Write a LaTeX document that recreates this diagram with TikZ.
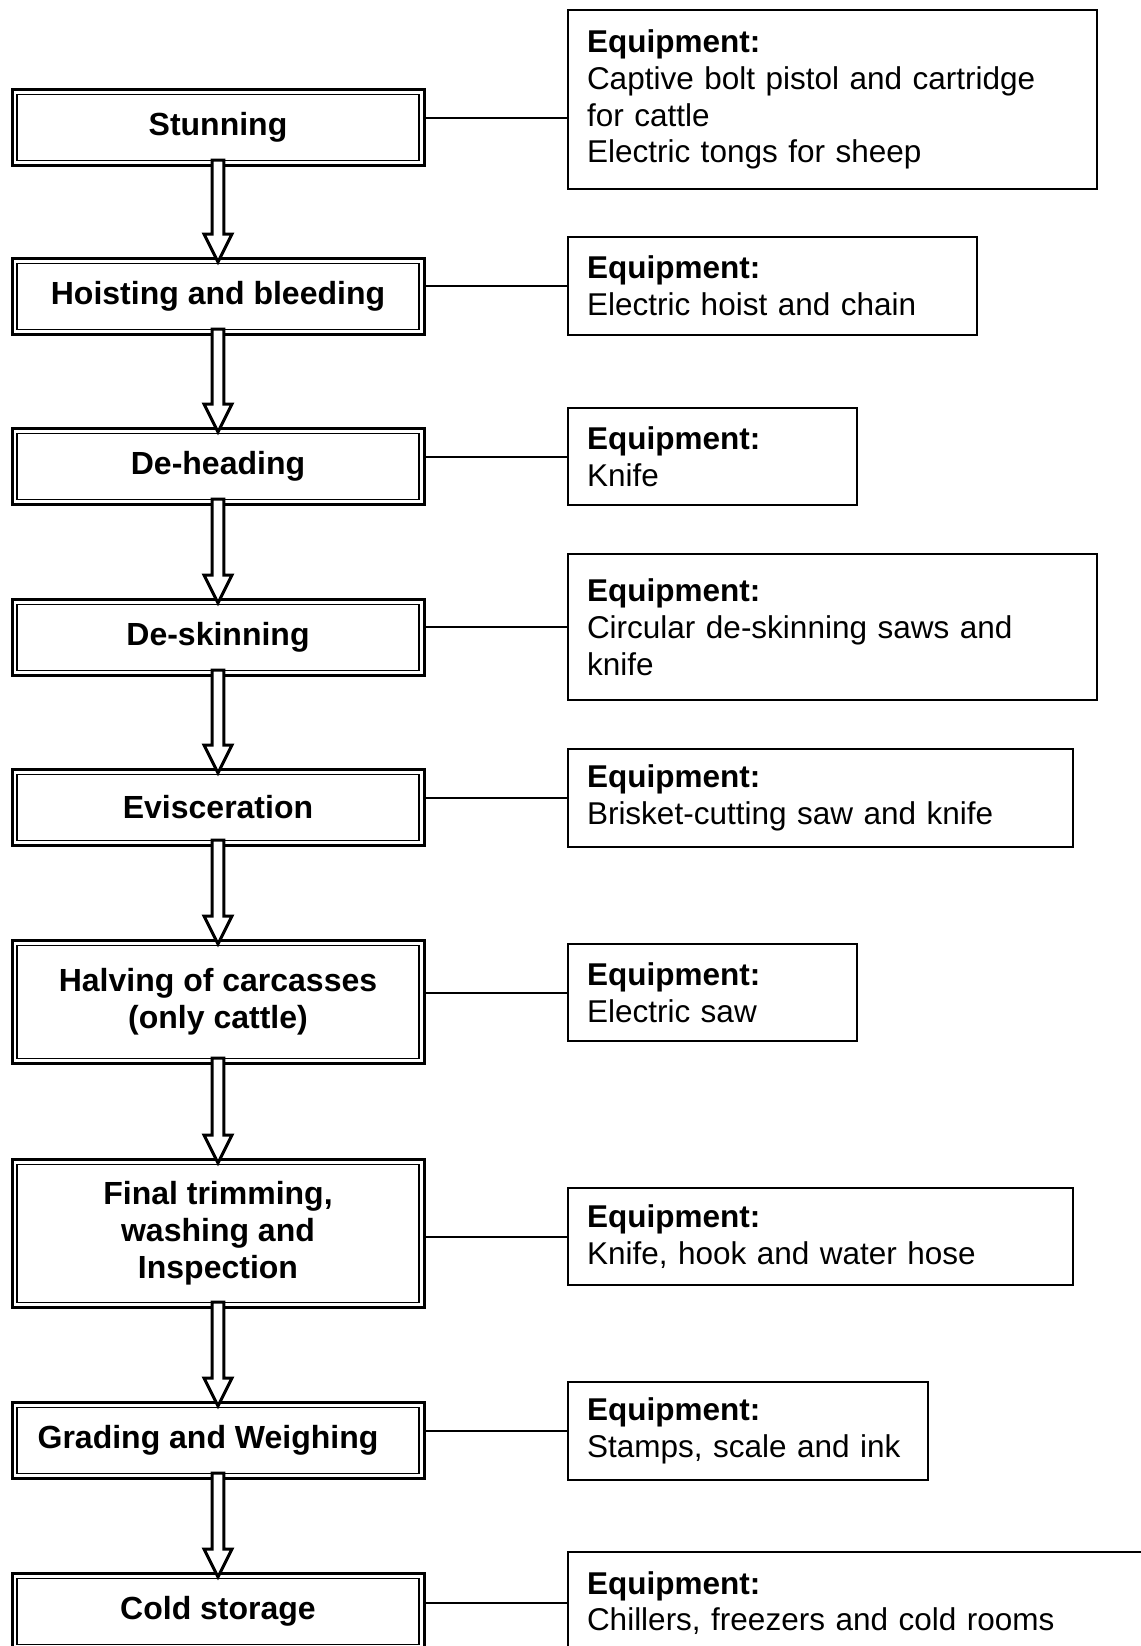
\documentclass[tikz,border=0pt]{standalone}
\usepackage{fontspec}
\setmainfont{Liberation Sans}
\usepackage{tikz}
\usetikzlibrary{calc}

\begin{document}
\begin{tikzpicture}[
    x=0.5pt, y=-0.5pt,
    font=\fontsize{16}{18.5}\selectfont,
    stepnode/.style={draw, rectangle, line width=1.5pt, minimum width=206pt, minimum height=38pt, inner sep=0pt, align=center, font=\fontsize{16}{18.5}\selectfont\bfseries,
      path picture={\draw[line width=0.75pt] ([shift={(2.4pt,-2.4pt)}]path picture bounding box.north west) rectangle ([shift={(-2.4pt,2.4pt)}]path picture bounding box.south east);}},
    eqnode/.style={draw, rectangle, line width=1pt, anchor=north west, align=left, inner xsep=9.5pt, inner ysep=0pt, font=\fontsize{15.75}{18.4}\selectfont},
    link/.style={line width=1pt},
    blockarrow/.style={draw, fill=white, line width=1.5pt, miter limit=10}
  ]
  \path[use as bounding box, clip] (0,0) rectangle (1141,1646);

  \node (s1) [stepnode] at (218,127.5) {Stunning};
  \node (s2) [stepnode] at (218,296.5) {Hoisting and bleeding};
  \node (s3) [stepnode] at (218,466.5) {De-heading};
  \node (s4) [stepnode] at (218,637.5) {De-skinning};
  \node (s5) [stepnode] at (218,807.5) {Evisceration};
  \node (s6) [stepnode, minimum height=61.5pt] at (218,1002) {Halving of carcasses\\(only cattle)};
  \node (s7) [stepnode, minimum height=74pt] at (218,1233.5) {Final trimming,\\washing and\\Inspection};
  \node (s8) [stepnode] at (218,1440.5) {Grading and Weighing\hspace*{10pt}};
  \node (s9) [stepnode] at (218,1611.5) {Cold storage};

  \node (e1) [eqnode, text width=245.5pt, minimum height=89.5pt] at (567,9) {\textbf{Equipment:}\\Captive bolt pistol and cartridge\\for cattle\\Electric tongs for sheep};
  \node (e2) [eqnode, text width=185.5pt, minimum height=49pt] at (567,236) {\textbf{Equipment:}\\Electric hoist and chain};
  \node (e3) [eqnode, text width=125.5pt, minimum height=48.5pt] at (567,407) {\textbf{Equipment:}\\Knife};
  \node (e4) [eqnode, text width=245.5pt, minimum height=73pt] at (567,553) {\textbf{Equipment:}\\Circular de-skinning saws and\\knife};
  \node (e5) [eqnode, text width=233.5pt, minimum height=49pt] at (567,748) {\textbf{Equipment:}\\Brisket-cutting saw and knife};
  \node (e6) [eqnode, text width=125.5pt, minimum height=48.5pt] at (567,943) {\textbf{Equipment:}\\Electric saw};
  \node (e7) [eqnode, text width=233.5pt, minimum height=48.5pt] at (567,1187) {\textbf{Equipment:}\\Knife, hook and water hose};
  \node (e8) [eqnode, text width=161pt, minimum height=49pt] at (567,1381) {\textbf{Equipment:}\\\mbox{Stamps, scale and ink}};
  \node (e9) [eqnode, text width=281pt, minimum height=51pt] at (567,1551) {\textbf{Equipment:}\\Chillers, freezers and cold rooms};

  \coordinate (c1) at ([yshift=-9pt]e1.west);
  \draw[link] (c1) -- (c1 -| s1.east);
  \foreach \i in {2,...,9}
    \draw[link] (e\i.west) -- (e\i.west -| s\i.east);

  \foreach \a/\b in {s1/s2, s2/s3, s3/s4, s4/s5, s5/s6, s6/s7, s7/s8, s8/s9}
    \draw[blockarrow] ($(\a.south)+(-2.9pt,3.5pt)$) -- ($(\b.north)+(-2.9pt,11.5pt)$) -- ($(\b.north)+(-7pt,11.5pt)$) -- ($(\b.north)+(0,-2.5pt)$) -- ($(\b.north)+(7pt,11.5pt)$) -- ($(\b.north)+(2.9pt,11.5pt)$) -- ($(\a.south)+(2.9pt,3.5pt)$) -- cycle;

\end{tikzpicture}
\end{document}
